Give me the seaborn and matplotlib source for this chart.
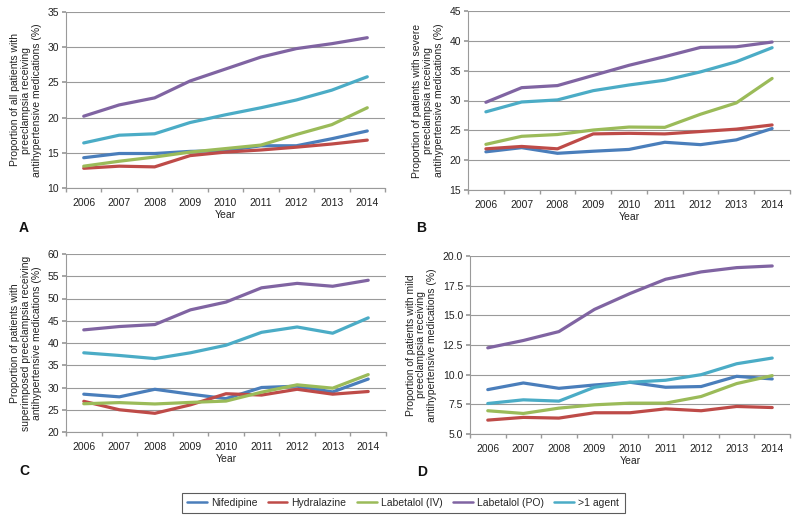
import numpy as np
import pandas as pd
import matplotlib
matplotlib.use("Agg")
import matplotlib.pyplot as plt
import seaborn as sns
from matplotlib.ticker import FixedLocator, FormatStrFormatter

years = ["2006", "2007", "2008", "2009", "2010", "2011", "2012", "2013", "2014"]
series_names = ["Nifedipine", "Hydralazine", "Labetalol (IV)", "Labetalol (PO)", ">1 agent"]
colors = ["#4A7EBB", "#BE4B48", "#9BBB59", "#8064A2", "#4BACC6"]

# Panel A: all patients
a_nifedipine = [14.3, 14.9, 14.9, 15.2, 15.3, 16.0, 16.0, 17.0, 18.1]
a_hydralazine = [12.8, 13.1, 13.0, 14.6, 15.1, 15.4, 15.8, 16.25, 16.8]
a_labetalol_iv = [13.1, 13.8, 14.4, 15.1, 15.6, 16.1, 17.6, 19.0, 21.4]
a_labetalol_po = [20.2, 21.8, 22.8, 25.2, 26.9, 28.6, 29.8, 30.5, 31.35]
a_multi = [16.4, 17.5, 17.7, 19.3, 20.4, 21.4, 22.5, 23.9, 25.8]

# Panel B: severe preeclampsia
b_nifedipine = [21.4, 22.1, 21.15, 21.5, 21.8, 23.0, 22.6, 23.4, 25.3]
b_hydralazine = [21.9, 22.3, 21.9, 24.4, 24.5, 24.4, 24.8, 25.2, 25.9]
b_labetalol_iv = [22.65, 24.0, 24.3, 25.05, 25.55, 25.5, 27.7, 29.6, 33.7]
b_labetalol_po = [29.7, 32.15, 32.5, 34.2, 35.9, 37.35, 38.9, 39.0, 39.8]
b_multi = [28.1, 29.75, 30.1, 31.65, 32.6, 33.4, 34.8, 36.5, 38.85]

# Panel C: superimposed preeclampsia
c_nifedipine = [28.5, 27.9, 29.6, 28.5, 27.5, 30.0, 30.3, 29.0, 31.9]
c_hydralazine = [26.9, 25.0, 24.2, 26.1, 28.6, 28.3, 29.6, 28.5, 29.1]
c_labetalol_iv = [26.35, 26.6, 26.3, 26.65, 26.95, 28.95, 30.6, 29.85, 32.9]
c_labetalol_po = [42.95, 43.7, 44.15, 47.45, 49.2, 52.4, 53.4, 52.75, 54.1]
c_multi = [37.8, 37.2, 36.5, 37.8, 39.5, 42.4, 43.6, 42.2, 45.65]

# Panel D: mild preeclampsia
d_nifedipine = [8.74, 9.30, 8.85, 9.13, 9.36, 8.94, 9.0, 9.86, 9.64]
d_hydralazine = [6.17, 6.4, 6.34, 6.79, 6.79, 7.12, 6.96, 7.32, 7.23]
d_labetalol_iv = [6.96, 6.73, 7.18, 7.46, 7.6, 7.6, 8.16, 9.25, 9.92]
d_labetalol_po = [12.26, 12.88, 13.63, 15.5, 16.84, 18.04, 18.66, 19.02, 19.16]
d_multi = [7.57, 7.88, 7.77, 8.94, 9.36, 9.53, 10.0, 10.92, 11.4]

ylabels = [
    "Proportion of all patients with\npreeclampsia receiving\nantihypertensive medications (%)",
    "Proportion of patients with severe\npreeclampsia receiving\nantihypertensive medications (%)",
    "Proportion of patients with\nsuperimposed preeclampsia receiving\nantihypertensive medications (%)",
    "Proportion of patients with mild\npreeclampsia receiving\nantihypertensive medications (%)",
]
panel_letters = ["A", "B", "C", "D"]
y_ticks = [
    [10, 15, 20, 25, 30, 35],
    [15, 20, 25, 30, 35, 40, 45],
    [20, 25, 30, 35, 40, 45, 50, 55, 60],
    [5.0, 7.5, 10.0, 12.5, 15.0, 17.5, 20.0],
]

panels = [
    [a_nifedipine, a_hydralazine, a_labetalol_iv, a_labetalol_po, a_multi],
    [b_nifedipine, b_hydralazine, b_labetalol_iv, b_labetalol_po, b_multi],
    [c_nifedipine, c_hydralazine, c_labetalol_iv, c_labetalol_po, c_multi],
    [d_nifedipine, d_hydralazine, d_labetalol_iv, d_labetalol_po, d_multi],
]

sns.set_theme(style="white")
plt.rcParams["font.family"] = ["Liberation Sans", "DejaVu Sans"]

W, H = 800, 522
fig = plt.figure(figsize=(8, 5.22), dpi=100)

# axes boxes in pixels: left, top, right, bottom
boxes = [
    (66, 12, 385, 188),
    (468, 11, 790, 190),
    (66, 254, 386, 432),
    (470, 256, 790, 434),
]
letter_pos = [(24, 228), (421, 228), (24, 471), (422, 472)]

palette = dict(zip(series_names, colors))
grid_col = "#9a9a9a"

for i, (vals, box) in enumerate(zip(panels, boxes)):
    l, t, r, b = box
    ax = fig.add_axes([l / W, 1 - b / H, (r - l) / W, (b - t) / H])
    rows = []
    for name, v in zip(series_names, vals):
        for k, y in enumerate(v):
            rows.append({"x": k, "value": y, "series": name})
    df = pd.DataFrame(rows)
    sns.lineplot(data=df, x="x", y="value", hue="series", palette=palette,
                 hue_order=series_names, linewidth=2.3, ax=ax, legend=(i == 0))
    if i == 0:
        handles, labels = ax.get_legend_handles_labels()
        ax.get_legend().remove()
    ax.set_xlim(-0.5, 8.5)
    ax.set_ylim(y_ticks[i][0], y_ticks[i][-1])
    ax.set_yticks(y_ticks[i])
    if i == 3:
        ax.yaxis.set_major_formatter(FormatStrFormatter("%.1f"))
    ax.set_xticks(range(9))
    ax.set_xticklabels(years)
    ax.xaxis.set_minor_locator(FixedLocator(np.arange(-0.5, 9, 1.0)))
    ax.tick_params(axis="x", which="major", length=0, labelsize=7.5, pad=7, colors="#222222")
    ax.tick_params(axis="x", which="minor", length=3, direction="out", color=grid_col, bottom=True)
    ax.tick_params(axis="y", which="major", length=3, direction="out", color=grid_col,
                   labelsize=7.5, pad=2, colors="#222222", left=True)
    ax.tick_params(axis="y", labelcolor="#222222")
    ax.tick_params(axis="x", labelcolor="#222222")
    ax.grid(axis="y", color=grid_col, linewidth=0.8)
    ax.set_axisbelow(True)
    for s in ["top", "right"]:
        ax.spines[s].set_visible(False)
    for s in ["left", "bottom"]:
        ax.spines[s].set_color(grid_col)
        ax.spines[s].set_linewidth(0.8)
    ax.set_xlabel("Year", fontsize=7.5, labelpad=1.5, color="#222222")
    ax.set_ylabel(ylabels[i], fontsize=7.5, color="#222222", labelpad=4, linespacing=1.1)
    lx, ly = letter_pos[i]
    fig.text(lx / W, 1 - ly / H, panel_letters[i], fontsize=10, fontweight="bold",
             ha="center", va="center", color="#111111")

leg = fig.legend(handles, labels, loc="center", bbox_to_anchor=(403 / W, 1 - 503 / H),
                 ncol=5, fancybox=False, frameon=True, edgecolor="#333333",
                 fontsize=7.5, handlelength=1.9, handletextpad=0.4, columnspacing=1.0,
                 borderpad=0.5)
leg.get_frame().set_linewidth(0.8)
for lh in leg.get_lines():
    lh.set_linewidth(1.8)

fig.savefig("out.png", dpi=100)
